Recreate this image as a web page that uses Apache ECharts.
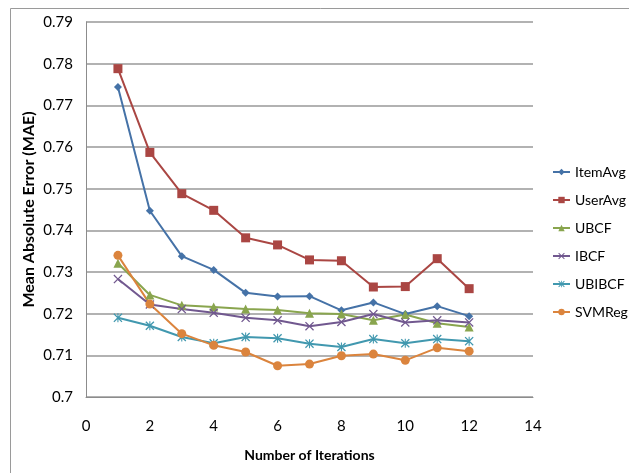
<!DOCTYPE html>
<html>
<head>
<meta charset="utf-8">
<script src="https://cdn.jsdelivr.net/npm/echarts@6/dist/echarts.min.js"></script>
<style>
  html, body { margin: 0; padding: 0; background: #fff; }
  #chart { width: 629px; height: 473px; }
</style>
</head>
<body>
<div id="chart"></div>
<script>
// Iteration counts on the x axis
const iterations = [1, 2, 3, 4, 5, 6, 7, 8, 9, 10, 11, 12];

// MAE per method
const itemAvg = [0.7744, 0.7447, 0.7338, 0.7305, 0.7250, 0.7241, 0.7242, 0.7208, 0.7227, 0.7199, 0.7218, 0.7194];
const userAvg = [0.7788, 0.7587, 0.7488, 0.7448, 0.7382, 0.7365, 0.7329, 0.7327, 0.7264, 0.7265, 0.7332, 0.7260];
const ubcf    = [0.7321, 0.7245, 0.7220, 0.7216, 0.7211, 0.7209, 0.7201, 0.7199, 0.7184, 0.7198, 0.7177, 0.7168];
const ibcf    = [0.7283, 0.7222, 0.7211, 0.7202, 0.7190, 0.7184, 0.7170, 0.7180, 0.7199, 0.7179, 0.7184, 0.7179];
const ubibcf  = [0.7190, 0.7171, 0.7144, 0.7129, 0.7144, 0.7141, 0.7128, 0.7120, 0.7139, 0.7129, 0.7139, 0.7134];
const svmReg  = [0.7340, 0.7223, 0.7152, 0.7124, 0.7108, 0.7075, 0.7079, 0.7099, 0.7103, 0.7088, 0.7118, 0.7110];

const seriesNames = ['ItemAvg', 'UserAvg', 'UBCF', 'IBCF', 'UBIBCF', 'SVMReg'];
const seriesValues = [itemAvg, userAvg, ubcf, ibcf, ubibcf, svmReg];
const colors = ['#4572A7', '#AA4643', '#89A54E', '#71588F', '#4198AF', '#DB843D'];

// Marker shapes: diamond, square, triangle, cross, asterisk, circle
const crossPath = 'path://M1,0L5,4L9,0L10,1L6,5L10,9L9,10L5,6L1,10L0,9L4,5L0,1Z';
const starPath = 'path://M1,0L5,4L9,0L10,1L6,5L10,9L9,10L5,6L1,10L0,9L4,5L0,1Z M4.4,0L5.6,0L5.6,10L4.4,10Z';
const symbols = ['diamond', 'rect', 'triangle', crossPath, starPath, 'circle'];
const symbolSizes = [8, 9, 9, 9, 9, 9];

const font = 'Lato, "Liberation Sans", sans-serif';

const chart = echarts.init(document.getElementById('chart'), null, { renderer: 'canvas' });

const series = seriesNames.map((name, i) => ({
  name: name,
  type: 'line',
  data: iterations.map((x, j) => [x, seriesValues[i][j]]),
  symbol: symbols[i],
  symbolSize: symbolSizes[i],
  showAllSymbol: true,
  lineStyle: { color: colors[i], width: 2 },
  itemStyle: { color: colors[i] },
  animation: false
}));

chart.setOption({
  backgroundColor: '#fff',
  animation: false,
  graphic: [{
    type: 'rect',
    left: 8, top: 6,
    shape: { width: 700, height: 600 },
    style: { fill: 'none', stroke: '#9a9a9a', lineWidth: 1 },
    silent: true
  }],
  grid: { left: 86, right: 96, top: 22, bottom: 76 },
  legend: {
    orient: 'vertical',
    left: 552,
    top: 165,
    padding: 0,
    itemGap: 14,
    itemWidth: 17,
    itemHeight: 8,
    data: seriesNames,
    textStyle: { fontFamily: font, fontSize: 14, color: '#000' }
  },
  xAxis: {
    type: 'value',
    min: 0, max: 14, interval: 2,
    name: 'Number of Iterations',
    nameLocation: 'middle',
    nameGap: 51,
    nameMoveOverlap: false,
    nameTextStyle: { fontFamily: font, fontSize: 14, fontWeight: 'bold', color: '#000' },
    axisLine: { show: true, lineStyle: { color: '#8c8c8c', width: 1 } },
    axisTick: { show: false },
    axisLabel: { margin: 22, fontFamily: font, fontSize: 15, color: '#000' },
    splitLine: { show: false }
  },
  yAxis: {
    type: 'value',
    min: 0.70, max: 0.79, interval: 0.01,
    name: 'Mean Absolute Error (MAE)',
    nameLocation: 'middle',
    nameGap: 49,
    nameMoveOverlap: false,
    nameRotate: 90,
    nameTextStyle: { fontFamily: font, fontSize: 16, fontWeight: 'bold', color: '#000' },
    axisLine: { show: true, lineStyle: { color: '#8c8c8c', width: 1 } },
    axisTick: { show: false },
    axisLabel: { margin: 13, fontFamily: font, fontSize: 15, color: '#000',
      formatter: v => String(parseFloat(v.toFixed(2))) },
    splitLine: { show: true, lineStyle: { color: '#999', width: 1.5 } }
  },
  series: series
});
</script>
</body>
</html>
